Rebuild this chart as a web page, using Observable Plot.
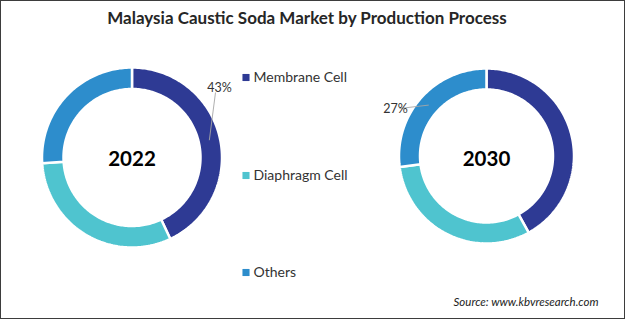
<!DOCTYPE html>
<html><head><meta charset="utf-8">
<script src="https://cdn.jsdelivr.net/npm/d3@7"></script>
<script src="https://cdn.jsdelivr.net/npm/@observablehq/plot@0.6"></script>
<style>
html,body{margin:0;padding:0;background:#fff;}
#wrap{position:relative;width:626px;height:321px;overflow:hidden;font-family:Lato,"Open Sans",sans-serif;background:#fff;}
#title{position:absolute;left:0;top:7px;width:614px;text-align:center;font-weight:bold;font-size:17px;color:#262626;z-index:2;}
#chart{position:absolute;left:0;top:0;}
#frame{position:absolute;left:0;top:0;width:625px;height:319px;border:1.5px solid #3d3d3d;box-sizing:border-box;pointer-events:none;z-index:3;}
</style></head>
<body>
<div id="wrap">
  <div id="title">Malaysia Caustic Soda Market by Production Process</div>
  <div id="chart"></div>
  <div id="frame"></div>
</div>
<script>
// ---- data ----
const categories = ["Membrane Cell", "Diaphragm Cell", "Others"];
const years = ["2022", "2030"];
const share2022 = [43, 31, 26];
const share2030 = [42, 31, 27];
const pctLabels = [
  {year: "2022", category: "Membrane Cell", text: "43%"},
  {year: "2030", category: "Others", text: "27%"}
];
const sourceText = ["Source: www.kbvresearch.com"];

// ---- layout / style ----
const palette = ["#2e3a94", "#4fc4cf", "#2d8dcc"];
const donuts = {
  "2022": {cx: 131.5, cy: 157, r0: 68.5, r1: 90, ty: 159},
  "2030": {cx: 486, cy: 155.5, r0: 66.5, r1: 87.5, ty: 158.5}
};
const labelPos = {
  "2022": {x2: 215, y2: 92, tx: 219, ty: 87, anchor: "middle"},
  "2030": {x2: 399, y2: 108, tx: 395, ty: 108, anchor: "end"}
};
const legendX = 245.5, legendY = [77, 175, 272];

// ---- build slice polygons from the shares ----
const polys = [];
const mids = {};
for (const [year, shares] of [["2022", share2022], ["2030", share2030]]) {
  const d = donuts[year];
  const total = d3.sum(shares);
  let acc = 0;
  shares.forEach((v, i) => {
    const a0 = acc / total * 2 * Math.PI;
    acc += v;
    const a1 = acc / total * 2 * Math.PI;
    const key = year + "-" + i;
    const n = Math.max(2, Math.ceil((a1 - a0) / 0.02));
    const pts = [];
    for (let k = 0; k <= n; k++) {
      const a = a0 + (a1 - a0) * k / n;
      pts.push([d.cx + d.r1 * Math.sin(a), d.cy - d.r1 * Math.cos(a)]);
    }
    for (let k = n; k >= 0; k--) {
      const a = a0 + (a1 - a0) * k / n;
      pts.push([d.cx + d.r0 * Math.sin(a), d.cy - d.r0 * Math.cos(a)]);
    }
    pts.push(pts[0]);
    pts.forEach(p => polys.push({key, category: categories[i], x: p[0], y: p[1]}));
    const am = (a0 + a1) / 2, rm = (d.r0 + d.r1) / 2;
    mids[year + "|" + categories[i]] = {x: d.cx + rm * Math.sin(am), y: d.cy - rm * Math.cos(am)};
  });
}

const leader = pctLabels.map(l => ({...l, ...mids[l.year + "|" + l.category], ...labelPos[l.year]}));

const chart = Plot.plot({
  width: 626, height: 321, margin: 0,
  style: {fontFamily: "Lato, 'Open Sans', sans-serif", background: "transparent"},
  x: {domain: [0, 626], range: [0, 626], axis: null},
  y: {domain: [0, 321], range: [0, 321], axis: null},
  color: {domain: categories, range: palette},
  marks: [
    Plot.line(polys, {x: "x", y: "y", z: "key", fill: "category", stroke: "white", strokeWidth: 2.5, strokeLinejoin: "miter"}),
    Plot.text(years, {x: d => donuts[d].cx, y: d => donuts[d].ty, text: d => d, fontSize: 20.5, fontWeight: "bold", fill: "#000"}),
    Plot.link(leader, {x1: "x", y1: "y", x2: "x2", y2: "y2", stroke: "#a6a6a6", strokeWidth: 0.9}),
    Plot.text(leader, {x: "tx", y: "ty", text: "text", textAnchor: d => d.anchor, fontSize: 12.5, fill: "#333"}),
    Plot.dot(categories, {x: () => legendX, y: (d, i) => legendY[i], symbol: "square", r: 4, fill: d => d}),
    Plot.text(categories, {x: () => legendX + 7.5, y: (d, i) => legendY[i], text: d => d, textAnchor: "start", fontSize: 14, fill: "#333"}),
    Plot.text(sourceText, {x: () => 598, y: () => 302, text: d => d, textAnchor: "end", fontSize: 11.5, fontStyle: "italic", fill: "#222"})
  ]
});
document.getElementById("chart").appendChild(chart);
</script>
</body></html>
